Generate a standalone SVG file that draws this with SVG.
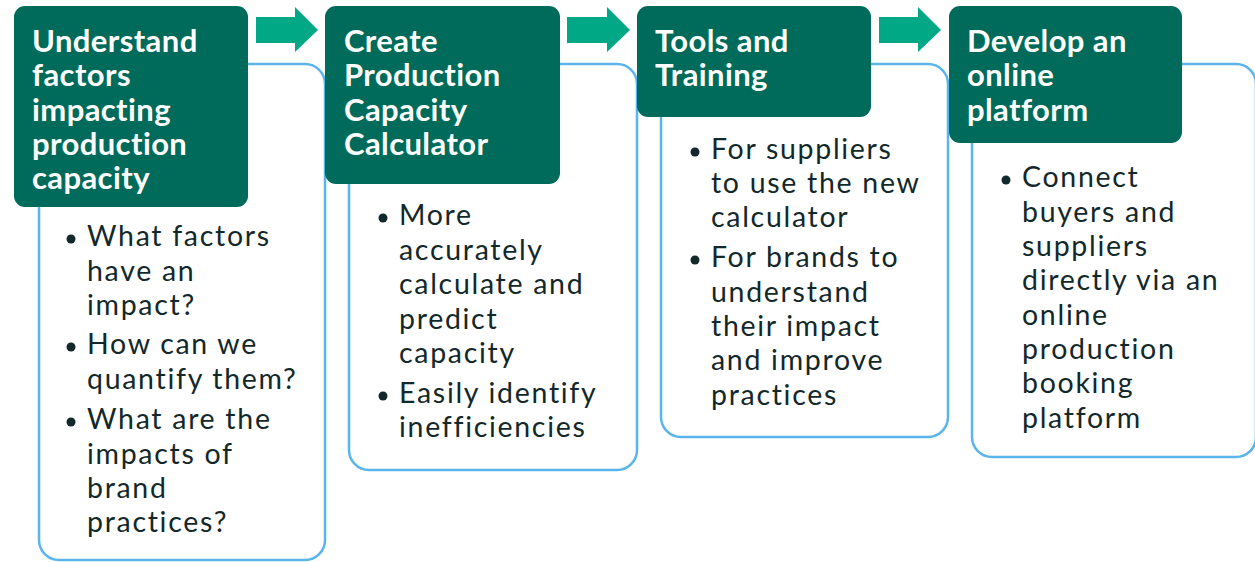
<svg xmlns="http://www.w3.org/2000/svg" width="1255" height="562" viewBox="0 0 1255 562">
<style>
.panel{fill:#fff;stroke:#5AB4EE;stroke-width:2.5}
.head{fill:#006B5A}
.arrow{fill:#00A886}
.ht{font-family:Lato,"Open Sans",sans-serif;font-weight:bold;font-size:31px;letter-spacing:0.4px;fill:#fff}
.bt{font-family:Lato,"Open Sans",sans-serif;font-size:28.5px;letter-spacing:1.7px;fill:#13282a}
.dot{fill:#13282a}
</style>
<rect width="1255" height="562" fill="#fff"/>
<g id="connectors">
<path class="arrow" d="M256,17H295V7L318,30L295,52V43H256Z"/>
<path class="arrow" d="M567,17H607V7L630,30L607,52V43H567Z"/>
<path class="arrow" d="M879,17H918V7L941,30L918,52V43H879Z"/>
</g>
<g id="node1">
<rect class="panel" x="39" y="64" width="286" height="496" rx="20"/>
<rect class="head" x="14" y="6" width="234" height="201" rx="11"/>
<text class="ht" x="32" y="52">Understand</text>
<text class="ht" x="32" y="86">factors</text>
<text class="ht" x="32" y="120.5">impacting</text>
<text class="ht" x="32" y="154.5">production</text>
<text class="ht" x="32" y="189">capacity</text>
<circle class="dot" cx="71" cy="239" r="4.5"/>
<circle class="dot" cx="71" cy="347" r="4.5"/>
<circle class="dot" cx="71" cy="422" r="4.5"/>
<text class="bt" x="87" y="246">What factors</text>
<text class="bt" x="87" y="280.5">have an</text>
<text class="bt" x="87" y="315">impact?</text>
<text class="bt" x="87" y="354">How can we</text>
<text class="bt" x="87" y="389">quantify them?</text>
<text class="bt" x="87" y="429">What are the</text>
<text class="bt" x="87" y="463.5">impacts of</text>
<text class="bt" x="87" y="498">brand</text>
<text class="bt" x="87" y="532">practices?</text>
</g>
<g id="node2">
<rect class="panel" x="349" y="64" width="288" height="406" rx="20"/>
<rect class="head" x="325" y="6" width="235" height="178" rx="11"/>
<text class="ht" x="344" y="52">Create</text>
<text class="ht" x="344" y="86">Production</text>
<text class="ht" x="344" y="120.5">Capacity</text>
<text class="ht" x="344" y="154.5">Calculator</text>
<circle class="dot" cx="383" cy="218" r="4.5"/>
<circle class="dot" cx="383" cy="396" r="4.5"/>
<text class="bt" x="399" y="225">More</text>
<text class="bt" x="399" y="260">accurately</text>
<text class="bt" x="399" y="294">calculate and</text>
<text class="bt" x="399" y="329">predict</text>
<text class="bt" x="399" y="363">capacity</text>
<text class="bt" x="399" y="403">Easily identify</text>
<text class="bt" x="399" y="437">inefficiencies</text>
</g>
<g id="node3">
<rect class="panel" x="661" y="64" width="287" height="373" rx="20"/>
<rect class="head" x="637" y="6" width="234" height="111" rx="11"/>
<text class="ht" x="655" y="52">Tools and</text>
<text class="ht" x="655" y="86">Training</text>
<circle class="dot" cx="695" cy="152" r="4.5"/>
<circle class="dot" cx="695" cy="260" r="4.5"/>
<text class="bt" x="711" y="159">For suppliers</text>
<text class="bt" x="711" y="193">to use the new</text>
<text class="bt" x="711" y="227">calculator</text>
<text class="bt" x="711" y="267">For brands to</text>
<text class="bt" x="711" y="302">understand</text>
<text class="bt" x="711" y="336">their impact</text>
<text class="bt" x="711" y="370">and improve</text>
<text class="bt" x="711" y="405">practices</text>
</g>
<g id="node4">
<rect class="panel" x="972" y="64" width="284" height="393" rx="20"/>
<rect class="head" x="949" y="6" width="233" height="137" rx="11"/>
<text class="ht" x="967" y="52">Develop an</text>
<text class="ht" x="967" y="86">online</text>
<text class="ht" x="967" y="120.5">platform</text>
<circle class="dot" cx="1006" cy="180" r="4.5"/>
<text class="bt" x="1022" y="187">Connect</text>
<text class="bt" x="1022" y="221.5">buyers and</text>
<text class="bt" x="1022" y="256">suppliers</text>
<text class="bt" x="1022" y="290">directly via an</text>
<text class="bt" x="1022" y="325">online</text>
<text class="bt" x="1022" y="359">production</text>
<text class="bt" x="1022" y="393">booking</text>
<text class="bt" x="1022" y="427.5">platform</text>
</g>
</svg>
